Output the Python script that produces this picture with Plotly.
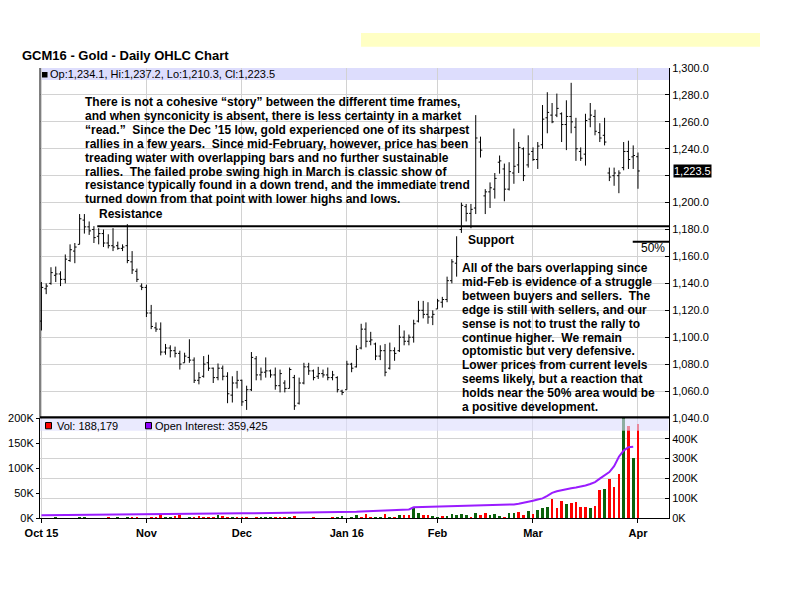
import plotly.graph_objects as go

W, H = 800, 600


def px(x):
    return x / W


def py(y):
    return 1 - y / H


FONT = "Liberation Sans, Arial, Helvetica, sans-serif"

# ---------------- data ----------------
MONTH_IDX = [0, 22, 42, 64, 83, 103, 125]
MONTH_LABELS = ["Oct 15", "Nov", "Dec", "Jan 16", "Feb", "Mar", "Apr"]

OPEN = [1112, 1136, 1140, 1146, 1147, 1143, 1157, 1164, 1169, 1187, 1182, 1180, 1175, 1177, 1170, 1168, 1168, 1166, 1168, 1156, 1149, 1138,
        1137, 1118, 1107, 1106, 1089, 1092, 1090, 1088, 1081, 1085, 1083, 1068, 1071, 1081, 1077, 1070, 1077, 1071, 1057, 1066,
        1068, 1053, 1061, 1084, 1072, 1074, 1075, 1072, 1064, 1066, 1062, 1070, 1051, 1066, 1078, 1075, 1071, 1073, 1072, 1070, 1070, 1060,
        1061, 1080, 1078, 1092, 1106, 1097, 1095, 1086, 1090, 1077, 1090, 1090, 1100, 1097, 1100, 1112, 1120, 1117, 1115,
        1121, 1126, 1128, 1142, 1155, 1180, 1197, 1192, 1196, 1245, 1205, 1208, 1210, 1230, 1225, 1210, 1222, 1228, 1240, 1228,
        1238, 1232, 1243, 1263, 1265, 1265, 1266, 1258, 1264, 1256, 1238, 1236, 1262, 1264, 1252, 1250, 1222, 1220, 1220, 1226, 1238, 1234,
        1234.1]
HIGH = [1141, 1140, 1152, 1152.5, 1149, 1161.5, 1169, 1170, 1191.5, 1191.5, 1186, 1182.5, 1181, 1180, 1176.5, 1181, 1171, 1169, 1184, 1164, 1151, 1140,
        1139, 1124, 1111, 1111, 1095, 1094, 1093, 1090, 1088.5, 1098.5, 1085, 1074, 1086, 1087, 1077.5, 1080.5, 1079, 1074, 1071, 1075,
        1068.5, 1064, 1089, 1086, 1077.5, 1085, 1076, 1077.5, 1076, 1068, 1077.5, 1072, 1070, 1081, 1081, 1076, 1078, 1076, 1077.5, 1075, 1071, 1061,
        1082.5, 1081, 1094, 1110, 1111, 1104, 1096, 1094, 1095, 1096, 1092.5, 1109, 1105, 1102, 1113, 1127, 1127, 1126, 1120,
        1128.5, 1130, 1145, 1158, 1175, 1200, 1199, 1199, 1265, 1249, 1210, 1215, 1222, 1235, 1229, 1230, 1255, 1245, 1241, 1250,
        1241, 1245, 1272.5, 1282, 1274, 1281, 1267, 1276, 1289, 1263, 1241, 1266, 1274, 1269, 1259, 1263, 1226, 1226, 1224, 1245, 1246, 1242.5,
        1237.2]
LOW = [1105, 1132, 1139, 1141, 1138, 1140, 1156, 1155, 1169, 1177, 1176, 1170, 1169, 1167, 1166, 1164, 1165, 1164, 1155, 1147, 1141, 1135,
       1115, 1106, 1104, 1086.5, 1087, 1085, 1085, 1076, 1081, 1081, 1066, 1065, 1070, 1075, 1066, 1068, 1068, 1051, 1051.5, 1062,
       1049, 1046, 1060, 1068, 1068, 1070, 1070, 1061, 1059, 1059, 1062, 1046, 1050, 1065, 1072, 1068, 1069, 1070, 1068, 1068, 1059, 1057,
       1061, 1074, 1077.5, 1091, 1092.5, 1094, 1083, 1083, 1071, 1076, 1082.5, 1089, 1094, 1094, 1096, 1111, 1114, 1110, 1109,
       1121, 1122, 1126, 1140, 1145, 1177.5, 1186, 1181, 1191.5, 1233.5, 1191.5, 1196, 1203, 1221.5, 1201, 1209, 1214, 1222, 1216, 1226,
       1231, 1225, 1240, 1251.5, 1259, 1263.5, 1245, 1239, 1251.5, 1231, 1231, 1227.5, 1256, 1250, 1245, 1242.5, 1216, 1212.5, 1207, 1224, 1225, 1225,
       1210.3]
CLOSE = [1137, 1138, 1148, 1147, 1143, 1158, 1165, 1167, 1188, 1182, 1179, 1174, 1177, 1170, 1168, 1167, 1166, 1167, 1157, 1150, 1143, 1137,
         1118, 1108, 1106, 1089, 1092, 1090, 1088, 1080, 1086, 1083, 1068, 1070, 1080, 1077, 1070, 1077, 1071, 1058, 1066, 1068,
         1052, 1061, 1085, 1072, 1074, 1075, 1072, 1064, 1073, 1062, 1076, 1049, 1066, 1078, 1075, 1070, 1073, 1072, 1070, 1072, 1061, 1059,
         1080, 1077, 1091, 1106, 1097, 1098, 1086, 1090, 1074, 1090, 1088, 1100, 1097, 1100, 1110, 1120, 1117, 1115, 1117,
         1127, 1128, 1142, 1156, 1160, 1198, 1192, 1195, 1248, 1239, 1208, 1211, 1218, 1231, 1210, 1223, 1227, 1241, 1220, 1236,
         1232, 1242, 1262, 1267, 1260, 1270, 1258, 1264, 1260, 1240, 1233, 1261, 1265, 1253, 1248, 1245, 1219, 1222, 1222, 1238, 1232, 1235,
         1223.5]

VOLUME = [500, 500, 500, 3000, 500, 500, 500, 500, 3000, 3000, 500, 500, 500, 500, 3000, 500, 3000, 500, 3000, 3000, 3000, 500,
          500, 3000, 3000, 6700, 3000, 3000, 5300, 6700, 500, 3000, 3500, 4700, 3000, 3000, 3000, 6700, 4700, 3000, 3000, 3000,
          3000, 3000, 500, 3000, 3000, 3000, 3000, 3000, 3000, 3000, 3000, 4700, 500, 500, 500, 3000, 500, 500, 500, 3000, 3000, 5300,
          500, 3000, 6000, 3000, 8000, 3500, 3500, 3000, 8700, 3300, 3300, 6700, 6700, 6700, 22000, 11000, 6700, 6700, 4700,
          2000, 4700, 4700, 8700, 6700, 8700, 6700, 2000, 10000, 6700, 10000, 6700, 8700, 4700, 3300, 10000, 11000, 13000, 6700, 15000,
          8700, 16700, 21000, 23000, 38000, 21000, 35000, 29000, 30000, 32000, 23000, 23000, 21000, 25000, 57000, 59000, 79000, 63000, 89000,
          320000, 185000, 120000, 188179]
# g = up-day volume bar (green), r = down-day (red); one letter per bar, month by month
VOLUME_DIR_OCT = "rrrgrrrrggrrrrrrgrgrrr"
VOLUME_DIR_NOV = "rrrrggrrrgrrrrrgrrgr"
VOLUME_DIR_DEC = "rrrrgggrrrgrrrrrrrrrgg"
VOLUME_DIR_JAN = "rggrrrggrgrgrrggrrg"
VOLUME_DIR_FEB = "grgggggrgrrgggrggrrg"
VOLUME_DIR_MAR = "rgggrrrgrrrrgrrgrrrgrg"
VOLUME_DIR_APR = "r"

OPEN_INTEREST = [15000, 15200, 15300, 15600, 15800, 16100, 16300, 16400, 16900, 17300, 17500, 17600, 17800, 18000, 18100, 18300, 18600, 18800, 19200, 19500, 19700, 19900,
                 20200, 20400, 20500, 20900, 21100, 21400, 21600, 21900, 22100, 22300, 22600, 22900, 23100, 23300, 23600, 23800, 24000, 24300, 24500, 24800,
                 25000, 25300, 25500, 25700, 26000, 26200, 26400, 26700, 27000, 27300, 27600, 28000, 28200, 28500, 28700, 29000, 29200, 29500, 29700, 30100, 30500, 31200,
                 32000, 32800, 33500, 34600, 35300, 36100, 36900, 37600, 38800, 39500, 40700, 41800, 43000, 44600, 55200, 55900, 56300, 56800, 57200,
                 57600, 58100, 58500, 59000, 59600, 60100, 60500, 61000, 61800, 62400, 63000, 63800, 64500, 65300, 66400, 67600, 69800, 72900, 77000, 82300,
                 88100, 94000, 100200, 112500, 127800, 135600, 141900, 146300, 150800, 155100, 159400, 165000, 172200, 182000, 199600, 215300, 232400, 262000, 309500,
                 340200, 356800, 359425, None]

PRICE_TICKS = [1040, 1060, 1080, 1100, 1120, 1140, 1160, 1180, 1200, 1220, 1240, 1260, 1280, 1300]
VOL_TICKS = [0, 50000, 100000, 150000, 200000]
OI_TICKS = [0, 100000, 200000, 300000, 400000]

RESISTANCE = 1182.5
RESISTANCE_FROM_IDX = 11.7
FIFTY_PCT = 1171
FIFTY_FROM_IDX = 123.9

TOP_NOTE = [
    "There is not a cohesive \u201cstory\u201d between the different time frames,",
    "and when synconicity is absent, there is less certainty in a market",
    "\u201cread.\u201d\u00a0 Since the Dec \u201915 low, gold experienced one of its sharpest",
    "rallies in a few years.\u00a0 Since mid-February, however, price has been",
    "treading water with overlapping bars and no further sustainable",
    "rallies.\u00a0 The failed probe swing high in March is classic show of",
    "resistance typically found in a down trend, and the immediate trend",
    "turned down from that point with lower highs and lows.",
]
BOTTOM_NOTE = [
    "All of the bars overlapping since",
    "mid-Feb is evidence of a struggle",
    "between buyers and sellers.\u00a0 The",
    "edge is still with sellers, and our",
    "sense is not to trust the rally to",
    "continue higher.\u00a0 We remain",
    "optomistic but very defensive.",
    "Lower prices from current levels",
    "seems likely, but a reaction that",
    "holds near the 50% area would be",
    "a positive development.",
]

# ---------------- figure ----------------
n = len(CLOSE)
idx = list(range(n))
X_RANGE = [-0.3, 131.5]

GREEN = "#0B610B"
RED = "#FF0000"
PURPLE = "#9A1CFF"
GRID = "#D2D2D2"
BAND = "#DDDDFD"

VOLUME_DIR = (VOLUME_DIR_OCT + VOLUME_DIR_NOV + VOLUME_DIR_DEC + VOLUME_DIR_JAN
              + VOLUME_DIR_FEB + VOLUME_DIR_MAR + VOLUME_DIR_APR)
vol_colors = [GREEN if d == "g" else RED for d in VOLUME_DIR]

fig = go.Figure()
fig.add_trace(go.Ohlc(
    x=idx, open=OPEN, high=HIGH, low=LOW, close=CLOSE,
    increasing=dict(line=dict(color="black", width=1)),
    decreasing=dict(line=dict(color="black", width=1)),
    tickwidth=0.38, xaxis="x", yaxis="y", showlegend=False, hoverinfo="skip",
))
fig.add_trace(go.Bar(
    x=idx, y=VOLUME, marker=dict(color=vol_colors, line=dict(width=0)),
    width=0.56, xaxis="x2", yaxis="y2", showlegend=False, hoverinfo="skip",
))
fig.add_trace(go.Scatter(
    x=idx, y=OPEN_INTEREST, mode="lines", line=dict(color=PURPLE, width=2),
    xaxis="x2", yaxis="y3", showlegend=False, hoverinfo="skip",
))

XDOM = [px(40), px(669)]
tickfont = dict(family=FONT, size=11, color="black")

price_text = [("" if v == 1220 else f"{v:,.1f}") for v in PRICE_TICKS]

fig.update_layout(
    width=W, height=H, margin=dict(l=0, r=0, t=0, b=0),
    paper_bgcolor="white", plot_bgcolor="white", bargap=0,
    font=dict(family=FONT, color="black"),
    xaxis=dict(domain=XDOM, anchor="y", range=X_RANGE, tickvals=MONTH_IDX,
               showticklabels=False, ticks="", showgrid=True, gridcolor=GRID,
               zeroline=False, showline=False, rangeslider=dict(visible=False),
               fixedrange=True),
    yaxis=dict(domain=[py(418), py(68)], anchor="x", side="right",
               range=[1040, 1300], tickvals=PRICE_TICKS, ticktext=price_text,
               ticks="inside", ticklen=4, tickcolor="black", showline=True,
               linecolor="black", linewidth=1, showgrid=True, gridcolor=GRID,
               zeroline=False, tickfont=tickfont, automargin=False),
    xaxis2=dict(domain=XDOM, anchor="y2", matches="x", range=X_RANGE,
                tickvals=MONTH_IDX, ticktext=[f"<b>{t}</b>" for t in MONTH_LABELS],
                ticks="outside", ticklen=4, tickcolor="black", showline=True,
                linecolor="black", linewidth=1, showgrid=True, gridcolor=GRID,
                zeroline=False, tickfont=tickfont, automargin=False),
    yaxis2=dict(domain=[py(518.3), py(418)], anchor="x2", side="left",
                range=[0, 200000], tickvals=VOL_TICKS,
                ticktext=[f"{v // 1000}K" for v in VOL_TICKS],
                ticks="outside", ticklen=3, tickcolor="black", showline=True,
                linecolor="black", linewidth=1, showgrid=False, zeroline=False,
                tickfont=tickfont, automargin=False),
    yaxis3=dict(overlaying="y2", anchor="x2", side="right", range=[0, 504000],
                tickvals=OI_TICKS, ticktext=[f"{v // 1000}K" for v in OI_TICKS],
                ticks="inside", ticklen=4, tickcolor="black", showline=True,
                linecolor="black", linewidth=1, showgrid=True, gridcolor=GRID,
                zeroline=False, tickfont=tickfont, automargin=False),
)

shapes = [
    # yellow strip top right
    dict(type="rect", xref="paper", yref="paper", x0=px(361), x1=px(760), y0=py(46.7), y1=py(33),
         fillcolor="#FFFFC4", line=dict(width=0), layer="below"),
    # price legend band
    dict(type="rect", xref="paper", yref="paper", x0=px(40), x1=px(669), y0=py(80), y1=py(68),
         fillcolor=BAND, line=dict(width=0), layer="below"),
    # volume legend band (translucent, above bars)
    dict(type="rect", xref="paper", yref="paper", x0=px(40), x1=px(668.5), y0=py(430.7), y1=py(418.5),
         fillcolor=BAND, opacity=0.62, line=dict(width=0), layer="above"),
    # left frame of price panel
    dict(type="line", xref="paper", yref="paper", x0=px(40), x1=px(40), y0=py(418), y1=py(68),
         line=dict(color="black", width=1)),
    # thick separator between panels
    dict(type="line", xref="paper", yref="paper", x0=px(40), x1=px(669), y0=py(417.3), y1=py(417.3),
         line=dict(color="black", width=2.2)),
    # legend swatches
    dict(type="rect", xref="paper", yref="paper", x0=px(42), x1=px(47.5), y0=py(77.5), y1=py(72),
         fillcolor="black", line=dict(width=0)),
    dict(type="rect", xref="paper", yref="paper", x0=px(45.5), x1=px(51.5), y0=py(428.8), y1=py(422.5),
         fillcolor=RED, line=dict(color="black", width=1)),
    dict(type="rect", xref="paper", yref="paper", x0=px(145.5), x1=px(151.5), y0=py(428.8), y1=py(422.5),
         fillcolor="#8F00FF", line=dict(color="black", width=1)),
    # resistance / support line and 50% line
    dict(type="line", xref="x", yref="y", x0=RESISTANCE_FROM_IDX, x1=X_RANGE[1], y0=RESISTANCE, y1=RESISTANCE,
         line=dict(color="black", width=2)),
    dict(type="line", xref="x", yref="y", x0=FIFTY_FROM_IDX, x1=X_RANGE[1], y0=FIFTY_PCT, y1=FIFTY_PCT,
         line=dict(color="black", width=2)),
]
fig.update_layout(shapes=shapes)

ann = []


def text(x, y_center, s, size=12, bold=False, color="black", **kw):
    ann.append(dict(xref="paper", yref="paper", x=px(x), y=py(y_center), text=(f"<b>{s}</b>" if bold else s),
                    showarrow=False, xanchor=kw.pop("xanchor", "left"), yanchor="middle",
                    font=dict(family=FONT, size=size, color=color), **kw))


text(20, 55.5, "GCM16 - Gold - Daily OHLC Chart", size=13, bold=True)
text(48, 74.5, f"Op:{OPEN[-1]:,.1f}, Hi:{HIGH[-1]:,.1f}, Lo:{LOW[-1]:,.1f}, Cl:{CLOSE[-1]:,.1f}", size=11)
text(55, 425.7, f"Vol: {VOLUME[-1]:,}", size=11)
last_oi = [v for v in OPEN_INTEREST if v is not None][-1]
text(153, 425.7, f"Open Interest: {last_oi:,}", size=11)

for k, line in enumerate(TOP_NOTE):
    text(83, 102 + k * 13.9, line, bold=True)
for k, line in enumerate(BOTTOM_NOTE):
    text(460, 268 + k * 13.9, line, bold=True)

text(96.5, 214.5, "Resistance", bold=True)
text(465.5, 240, "Support", bold=True)
text(638.5, 248, "50%")

# current price marker on the price axis
ann.append(dict(xref="paper", yref="y", x=px(673), y=CLOSE[-1], text=f"{CLOSE[-1]:,.1f}",
                showarrow=False, xanchor="left", yanchor="middle", bgcolor="black",
                borderpad=0, font=dict(family=FONT, size=11, color="white")))

fig.update_layout(annotations=ann)

fig.write_html("out.html", config={"displayModeBar": False},
               post_script="document.body.style.margin='0px';")
